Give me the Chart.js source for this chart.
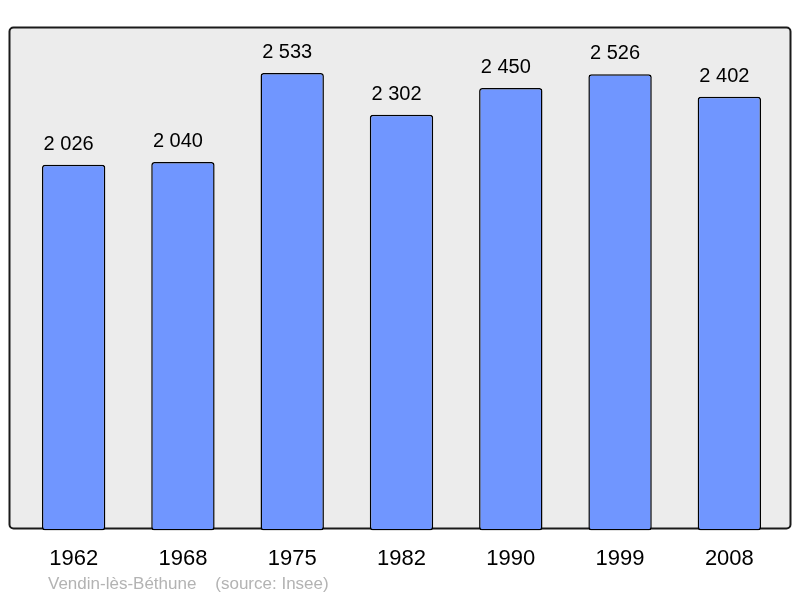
<!DOCTYPE html>
<html>
<head>
<meta charset="utf-8">
<script src="https://cdn.jsdelivr.net/npm/chart.js@4"></script>
<style>
  body { margin: 0; background: #fff; }
  #wrap { width: 800px; height: 598px; }
</style>
</head>
<body>
<div id="wrap"><canvas id="popChart" width="800" height="598"></canvas></div>
<script>
const years = ['1962', '1968', '1975', '1982', '1990', '1999', '2008'];
const population = [2026, 2040, 2533, 2302, 2450, 2526, 2402];
const yMax = 2788;
const townName = 'Vendin-lès-Béthune';
const sourceNote = '(source: Insee)';

// "2 026" style thousands
const fmt = (v) => String(v).replace(/\B(?=(\d{3})+(?!\d))/g, ' ');

// grey frame behind the bars
const framePlugin = {
    id: 'frame',
    beforeDraw(chart) {
        const ctx = chart.ctx;
        ctx.save();
        ctx.beginPath();
        ctx.roundRect(9.5, 27.5, 781, 501, 4);
        ctx.fillStyle = '#ececec';
        ctx.fill();
        ctx.lineWidth = 2;
        ctx.strokeStyle = '#1a1a1a';
        ctx.stroke();
        ctx.restore();
    }
};

// value labels above the bars + footer text
const labelPlugin = {
    id: 'valueLabels',
    afterDatasetsDraw(chart) {
        const ctx = chart.ctx;
        const meta = chart.getDatasetMeta(0);
        ctx.save();
        ctx.fillStyle = '#000';
        ctx.font = '20px "Liberation Sans", Arial, sans-serif';
        ctx.textAlign = 'center';
        ctx.textBaseline = 'alphabetic';
        meta.data.forEach((bar, i) => {
            ctx.fillText(fmt(population[i]), bar.x - 5, bar.y - 15);
        });
        ctx.fillStyle = '#b3b3b3';
        ctx.font = '17px "Liberation Sans", Arial, sans-serif';
        ctx.textAlign = 'left';
        ctx.fillText(townName + '    ' + sourceNote, 48, 589);
        ctx.restore();
    }
};

new Chart(document.getElementById('popChart'), {
    type: 'bar',
    data: {
        labels: years,
        datasets: [{
            data: population,
            backgroundColor: '#7096ff',
            borderColor: '#000',
            borderWidth: 1.5,
            borderRadius: 3,
            borderSkipped: false,
            categoryPercentage: 1,
            barPercentage: 0.58
        }]
    },
    options: {
        responsive: false,
        animation: false,
        layout: { padding: { left: 19, right: 16, top: 27, bottom: 11 } },
        scales: {
            x: {
                grid: { display: false, drawTicks: false },
                border: { display: false },
                ticks: {
                    color: '#000',
                    padding: 15,
                    font: { family: '"Liberation Sans", Arial, sans-serif', size: 22 }
                }
            },
            y: {
                display: false,
                min: 0,
                max: yMax
            }
        },
        plugins: {
            legend: { display: false },
            tooltip: { enabled: false }
        }
    },
    plugins: [framePlugin, labelPlugin]
});
</script>
</body>
</html>
